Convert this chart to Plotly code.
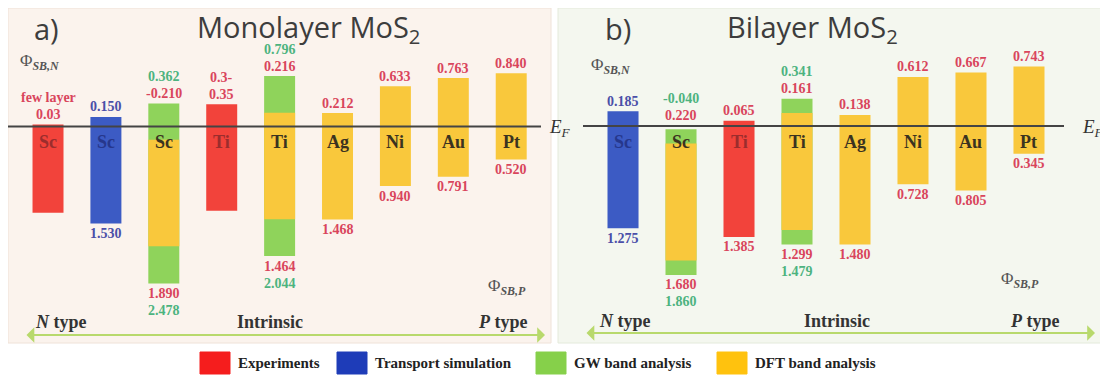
import plotly.graph_objects as go

# page body has an 8px margin: figure drawn from (8, 8) in the window
OFF = 8
W, H = 1108 - OFF, 391 - OFF

# ---------------- data ----------------
legend_names = ["Experiments", "Transport simulation", "GW band analysis", "DFT band analysis"]

mono_metals = ["Sc", "Sc", "Sc", "Ti", "Ti", "Ag", "Ni", "Au", "Pt"]
mono_exp_pos = [0, 3]
mono_exp_n = [0.03, 0.35]
mono_exp_p = [1.36, 1.33]
mono_exp_n_labels = [["0.03", "few layer"], ["0.35", "0.3-"]]
mono_tr_pos = [1]
mono_tr_n = [0.150]
mono_tr_p = [1.530]
mono_gw_pos = [2, 4]
mono_gw_n = [0.362, 0.796]
mono_gw_p = [2.478, 2.044]
mono_dft_pos = [2, 4, 5, 6, 7, 8]
mono_dft_n = [-0.210, 0.216, 0.212, 0.633, 0.763, 0.840]
mono_dft_p = [1.890, 1.464, 1.468, 0.940, 0.791, 0.520]

bi_metals = ["Sc", "Sc", "Ti", "Ti", "Ag", "Ni", "Au", "Pt"]
bi_tr_pos = [0]
bi_tr_n = [0.185]
bi_tr_p = [1.275]
bi_exp_pos = [2]
bi_exp_n = [0.065]
bi_exp_p = [1.385]
bi_gw_pos = [1, 3]
bi_gw_n = [-0.040, 0.341]
bi_gw_p = [1.860, 1.479]
bi_dft_pos = [1, 3, 4, 5, 6, 7]
bi_dft_n = [-0.220, 0.161, 0.138, 0.612, 0.667, 0.743]
bi_dft_p = [1.680, 1.299, 1.480, 0.728, 0.805, 0.345]
bi_dft_n_labels = [["0.220"], ["0.161"], ["0.138"], ["0.612"], ["0.667"], ["0.743"]]

# ---------------- style ----------------
RED, BLUE, GREEN, YELLOW = "#f2433b", "#3c5bc4", "#8fd35b", "#f9c83c"
LEG_COLORS = ["#f51d1d", "#1e3cb8", "#86d04a", "#ffc20e"]
RED_T, BLUE_T, GREEN_T = "#d9455c", "#4b4fa8", "#4db37f"
SERIF = "Liberation Serif, Times New Roman, serif"
SANS = "Open Sans, sans-serif"
BAR_W = 0.535


def xp(px):
    return (px - OFF) / W


def yp(py):
    return (H - (py - OFF)) / H


def fmt(v):
    return f"{v:.3f}"


def series(pos, n, p, color, tcolor, level, name, n_labels=None, p_labels=True):
    if n_labels is None:
        n_labels = [[fmt(v)] for v in n]
    if p_labels is True:
        p_labels = [[fmt(v)] for v in p]
    elif p_labels is None:
        p_labels = [[] for _ in p]
    return dict(pos=pos, n=n, p=p, color=color, tcolor=tcolor, level=level,
                name=name, n_labels=n_labels, p_labels=p_labels)


PANEL_TOP, PANEL_BOT = 8, 343
panels = [
    dict(xa="x", ya="y", metals=mono_metals, left=8, right=551,
         xr=[-0.691, 8.687], yr=[-3.415, 1.869],
         bg="#fbf3ed", edge="#efe2d8",
         series=[
             series(mono_exp_pos, mono_exp_n, mono_exp_p, RED, RED_T, 0, legend_names[0],
                    n_labels=mono_exp_n_labels, p_labels=None),
             series(mono_tr_pos, mono_tr_n, mono_tr_p, BLUE, BLUE_T, 0, legend_names[1]),
             series(mono_gw_pos, mono_gw_n, mono_gw_p, GREEN, GREEN_T, 1, legend_names[2]),
             series(mono_dft_pos, mono_dft_n, mono_dft_p, YELLOW, RED_T, 0, legend_names[3]),
         ]),
    dict(xa="x2", ya="y2", metals=bi_metals, left=558, right=1102,
         xr=[-1.121, 8.259], yr=[-2.709, 1.473],
         bg="#f4f7ef", edge="#e4eadb",
         series=[
             series(bi_exp_pos, bi_exp_n, bi_exp_p, RED, RED_T, 0, legend_names[0]),
             series(bi_tr_pos, bi_tr_n, bi_tr_p, BLUE, BLUE_T, 0, legend_names[1]),
             series(bi_gw_pos, bi_gw_n, bi_gw_p, GREEN, GREEN_T, 1, legend_names[2]),
             series(bi_dft_pos, bi_dft_n, bi_dft_p, YELLOW, RED_T, 0, legend_names[3],
                    n_labels=bi_dft_n_labels),
         ]),
]


def dx(pn, px):
    return (px - pn["left"]) / (pn["right"] - pn["left"])


fig = go.Figure()
annotations = []
shapes = []

metal_text_color = {RED: "#9b2d2d", BLUE: "#26378c", GREEN: "#33361f", YELLOW: "#3b3320"}

for pn in panels:
    xa, ya = pn["xa"], pn["ya"]
    top_anchor, bot_anchor, top_color = {}, {}, {}
    for s in pn["series"]:
        fig.add_trace(go.Bar(
            x=s["pos"], y=[a + b for a, b in zip(s["n"], s["p"])], base=[-b for b in s["p"]],
            width=BAR_W, marker=dict(color=s["color"], line=dict(width=0)), opacity=1,
            name=s["name"], showlegend=False, xaxis=xa, yaxis=ya, hoverinfo="skip"))
        for i, x in enumerate(s["pos"]):
            top_anchor[x] = max(top_anchor.get(x, 0), s["n"][i], 0)
            bot_anchor[x] = max(bot_anchor.get(x, 0), s["p"][i])
            top_color[x] = s["color"]
    for s in pn["series"]:
        for i, x in enumerate(s["pos"]):
            for k, t in enumerate(s["n_labels"][i]):
                lv = s["level"] + k
                annotations.append(dict(
                    x=x, y=top_anchor[x], xref=xa, yref=ya, text=f"<b>{t}</b>", showarrow=False,
                    yanchor="middle", yshift=10 + 17 * lv,
                    font=dict(family=SERIF, size=14, color=s["tcolor"])))
            for k, t in enumerate(s["p_labels"][i]):
                lv = s["level"] + k
                annotations.append(dict(
                    x=x, y=-bot_anchor[x], xref=xa, yref=ya, text=f"<b>{t}</b>", showarrow=False,
                    yanchor="middle", yshift=-(10 + 17 * lv),
                    font=dict(family=SERIF, size=14, color=s["tcolor"])))
    for x, m in enumerate(pn["metals"]):
        annotations.append(dict(
            x=x, y=0, xref=xa, yref=ya, text=f"<b>{m}</b>", showarrow=False,
            yanchor="top", yshift=-4,
            font=dict(family=SERIF, size=18, color=metal_text_color[top_color[x]])))
    shapes.append(dict(type="rect", xref=f"{xa} domain", yref=f"{ya} domain",
                       x0=0, x1=1, y0=0, y1=1, fillcolor=pn["bg"],
                       line=dict(color=pn["edge"], width=1), layer="below"))

y_dom = [yp(PANEL_BOT), yp(PANEL_TOP)]
fig.update_layout(
    xaxis=dict(domain=[xp(panels[0]["left"]), xp(panels[0]["right"])], range=panels[0]["xr"],
               visible=False, anchor="y"),
    yaxis=dict(domain=y_dom, range=panels[0]["yr"], visible=False, anchor="x"),
    xaxis2=dict(domain=[xp(panels[1]["left"]), xp(panels[1]["right"])], range=panels[1]["xr"],
                visible=False, anchor="y2"),
    yaxis2=dict(domain=y_dom, range=panels[1]["yr"], visible=False, anchor="x2"),
)

# E_F lines (pixel spans of reference) and labels
ef_spans = [(8, 541, 547), (583, 1064, 1080)]
for pn, (a0, a1, lab) in zip(panels, ef_spans):
    shapes.append(dict(type="line", xref=f"{pn['xa']} domain", yref=pn["ya"],
                       x0=dx(pn, a0), x1=dx(pn, a1), y0=0, y1=0,
                       line=dict(color="#444444", width=2)))
    annotations.append(dict(x=xp(lab), y=0, xref="paper", yref=pn["ya"],
                            text="<i>E<sub>F</sub></i>", showarrow=False, xanchor="left",
                            yanchor="middle", yshift=-2,
                            font=dict(family=SERIF, size=19, color="#333333")))

# titles and side labels: (pixel x, pixel y, text, family, size, color, xanchor)
text_items = [
    (32, 28, "a)", SANS, 29, "#3d3d3d", "left"),
    (308, 28, "Monolayer MoS<sub>2</sub>", SANS, 29, "#3d3d3d", "center"),
    (603, 28, "b)", SANS, 29, "#3d3d3d", "left"),
    (812, 28, "Bilayer MoS<sub>2</sub>", SANS, 29, "#3d3d3d", "center"),
    (18, 62, "Φ<sub><i><b>SB,N</b></i></sub>", SERIF, 17, "#555555", "left"),
    (589, 66, "Φ<sub><i><b>SB,N</b></i></sub>", SERIF, 17, "#555555", "left"),
    (486, 287, "Φ<sub><i><b>SB,P</b></i></sub>", SERIF, 17, "#555555", "left"),
    (999, 280, "Φ<sub><i><b>SB,P</b></i></sub>", SERIF, 17, "#555555", "left"),
    (61, 322, "<b><i>N</i> type</b>", SERIF, 18, "#333333", "center"),
    (270, 322, "<b>Intrinsic</b>", SERIF, 18, "#333333", "center"),
    (503, 322, "<b><i>P</i> type</b>", SERIF, 18, "#333333", "center"),
    (625, 321, "<b><i>N</i> type</b>", SERIF, 18, "#333333", "center"),
    (837, 321, "<b>Intrinsic</b>", SERIF, 18, "#333333", "center"),
    (1035, 321, "<b><i>P</i> type</b>", SERIF, 18, "#333333", "center"),
]
for px, ypx, t, fam, sz, col, anc in text_items:
    annotations.append(dict(x=xp(px), y=yp(ypx), xref="paper", yref="paper", text=t,
                            showarrow=False, xanchor=anc, yanchor="middle",
                            font=dict(family=fam, size=sz, color=col)))

# double arrows N type <-> P type: (start px, end px, y px)
for x0, x1, ypx in [(25, 545, 335), (585, 1095, 333)]:
    annotations.append(dict(x=xp(x1), y=yp(ypx), xref="paper", yref="paper",
                            ax=-(x1 - x0), ay=0, axref="pixel", ayref="pixel", text="",
                            showarrow=True, arrowside="end+start", arrowhead=1,
                            arrowsize=1.3, arrowwidth=2, arrowcolor="#b8d96c", standoff=0,
                            startstandoff=0))

# custom legend
leg_x = [200, 337, 536, 717]
for name, col, lx in zip(legend_names, LEG_COLORS, leg_x):
    shapes.append(dict(type="rect", xref="paper", yref="paper",
                       x0=xp(lx), x1=xp(lx + 30), y0=yp(374), y1=yp(352),
                       fillcolor=col, line=dict(color=col, width=1)))
    annotations.append(dict(x=xp(lx + 36), y=yp(363), xref="paper", yref="paper",
                            text=f"<b>{name}</b>", showarrow=False, xanchor="left",
                            yanchor="middle", font=dict(family=SERIF, size=15, color="#222222")))

fig.update_layout(
    width=W, height=H, margin=dict(l=0, r=0, t=0, b=0),
    paper_bgcolor="white", plot_bgcolor="rgba(0,0,0,0)",
    barmode="overlay", showlegend=False,
    annotations=annotations, shapes=shapes,
)

fig.write_html("out.html")
